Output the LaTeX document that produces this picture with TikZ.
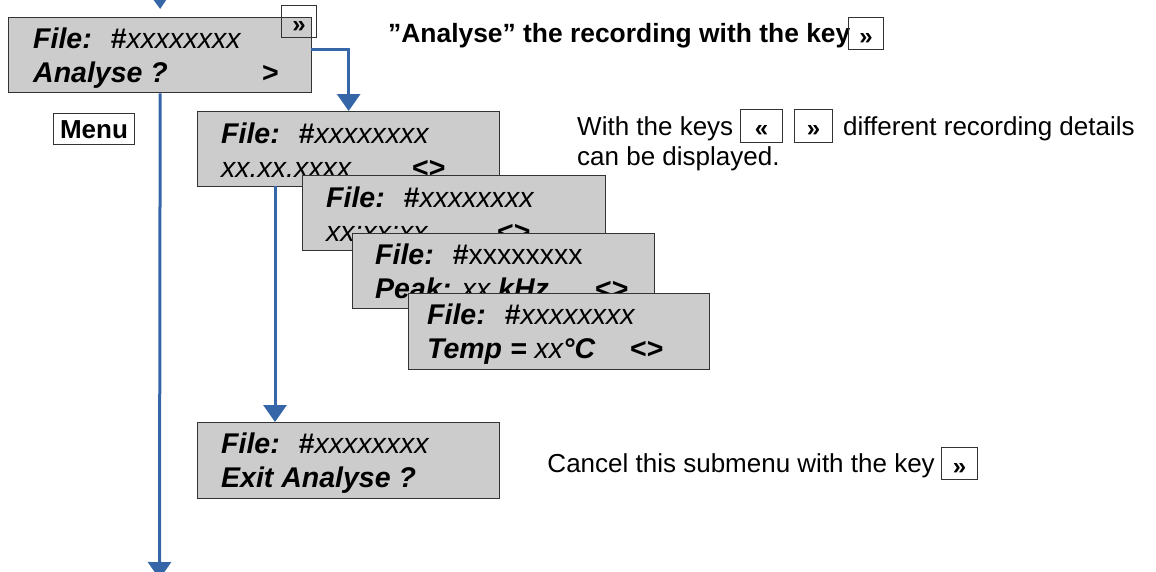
\documentclass[tikz,border=0pt]{standalone}
\usepackage{fontspec}
\setmainfont{Liberation Sans}
\usetikzlibrary{arrows.meta}
\definecolor{lcdgray}{RGB}{204,204,204}
\definecolor{lcdline}{RGB}{51,51,51}
\definecolor{flowblue}{RGB}{53,102,168}
\newcommand{\lcdbi}[1]{{\bfseries\itshape #1}}
\newcommand{\lcdit}[1]{{\itshape #1}}
\newcommand{\lcdbf}[1]{{\bfseries #1}}
\tikzset{
  lcdbox/.style={draw=lcdline, fill=lcdgray, line width=1.3pt, rectangle, anchor=north west, inner sep=0pt},
  lcdtxt/.style={anchor=base west, inner sep=0pt, font=\fontsize{28.5}{34}\selectfont},
  keybox/.style={draw=lcdline, line width=1pt, rectangle, anchor=north west, inner sep=0pt, text height=21pt, text depth=0pt, font=\fontsize{24}{28}\selectfont\bfseries},
  desc/.style={anchor=base west, inner sep=0pt, font=\fontsize{26}{30}\selectfont},
  flow/.style={draw=flowblue, line width=3pt, -{Triangle[width=23pt,length=17pt]}}
}
\begin{document}
\begin{tikzpicture}[x=1pt,y=-1pt]
\useasboundingbox (0,0) rectangle (1156,571);
% main box
\node[lcdbox, minimum width=303pt, minimum height=75pt] (A) at (8,17) {};
\node[lcdtxt] (A1) at (33,48) {\lcdbi{File:}\hspace{19pt}\lcdbf{\#}\lcdit{xxxxxxxx}};
\node[lcdtxt] (A2) at (33,82) {\lcdbi{Analyse ?}};
\node[lcdtxt] (A3) at (262,82) {\lcdbf{>}};
\node[keybox, minimum width=35pt, minimum height=32pt] (kA) at (281,5) {»};
\node[keybox, fill=white, minimum width=81pt, minimum height=31pt, text height=19pt, font=\fontsize{26}{30}\selectfont\bfseries] (menu) at (53,113) {Menu};
% box B
\node[lcdbox, minimum width=302pt, minimum height=75pt] (B) at (197,111) {};
\node[lcdtxt] (B1) at (221,143) {\lcdbi{File:}\hspace{19pt}\lcdbf{\#}\lcdit{xxxxxxxx}};
\node[lcdtxt] (B2) at (221,177) {\lcdit{xx.xx.xxxx}};
\node[lcdtxt] (B3) at (412,177) {\lcdbf{<>}};
% box C
\node[lcdbox, minimum width=303pt, minimum height=75pt] (C) at (302,175) {};
\node[lcdtxt] (C1) at (326,207) {\lcdbi{File:}\hspace{19pt}\lcdbf{\#}\lcdit{xxxxxxxx}};
\node[lcdtxt] (C2) at (326,241) {\lcdit{xx:xx:xx}};
\node[lcdtxt] (C3) at (497,241) {\lcdbf{<>}};
% box D
\node[lcdbox, minimum width=302pt, minimum height=75pt] (D) at (352,233) {};
\node[lcdtxt] (D1) at (375,264) {\lcdbi{File:}\hspace{19pt}\lcdbf{\#}xxxxxxxx};
\node[lcdtxt] (D2) at (375,298) {\lcdbi{Peak:} \lcdit{xx} \lcdbi{kHz}};
\node[lcdtxt] (D3) at (595,298) {\lcdbf{<>}};
% box E
\node[lcdbox, minimum width=301pt, minimum height=76pt] (E) at (408,293) {};
\node[lcdtxt] (E1) at (427,324) {\lcdbi{File:}\hspace{19pt}\lcdbf{\#}\lcdit{xxxxxxxx}};
\node[lcdtxt] (E2) at (427,358) {\lcdbi{Temp =} \lcdit{xx}\lcdbi{°C}};
\node[lcdtxt] (E3) at (630,358) {\lcdbf{<>}};
% box F
\node[lcdbox, minimum width=302pt, minimum height=76pt] (F) at (197,422) {};
\node[lcdtxt] (F1) at (221,453) {\lcdbi{File:}\hspace{19pt}\lcdbf{\#}\lcdit{xxxxxxxx}};
\node[lcdtxt] (F2) at (221,487) {\lcdbi{Exit Analyse ?}};
% descriptions
\node[desc, font=\fontsize{26.4}{30}\selectfont\bfseries] (h1) at (388,42) {”Analyse” the recording with the key};
\node[keybox, minimum width=35pt, minimum height=32pt] (kH) at (848,17) {»};
\node[desc] (w1) at (577,135) {With the keys};
\node[keybox, minimum width=42pt, minimum height=33pt] (kL) at (740,109) {«};
\node[keybox, minimum width=38pt, minimum height=33pt] (kR) at (794,109) {»};
\node[desc] (w2) at (843,135) {different recording details};
\node[desc] (w3) at (577,165) {can be displayed.};
\node[desc, anchor=base east] (c1) at (935,472) {Cancel this submenu with the key};
\node[keybox, minimum width=36pt, minimum height=32pt] (kC) at (941,447) {»};
% connectors
\coordinate (topin) at (159.5,-30);
\coordinate (bottomout) at (159.5,579);
\draw[flow] (topin) -- ([yshift=8pt]A.north);
\draw[flow] (A.south) -- (bottomout);
\coordinate (aout) at (311,49);
\draw[flow] (aout) -| (B.north);
\coordinate (bout) at (275,186);
\coordinate (fin) at (275,422);
\draw[flow] (bout) -- (fin);
\end{tikzpicture}
\end{document}
